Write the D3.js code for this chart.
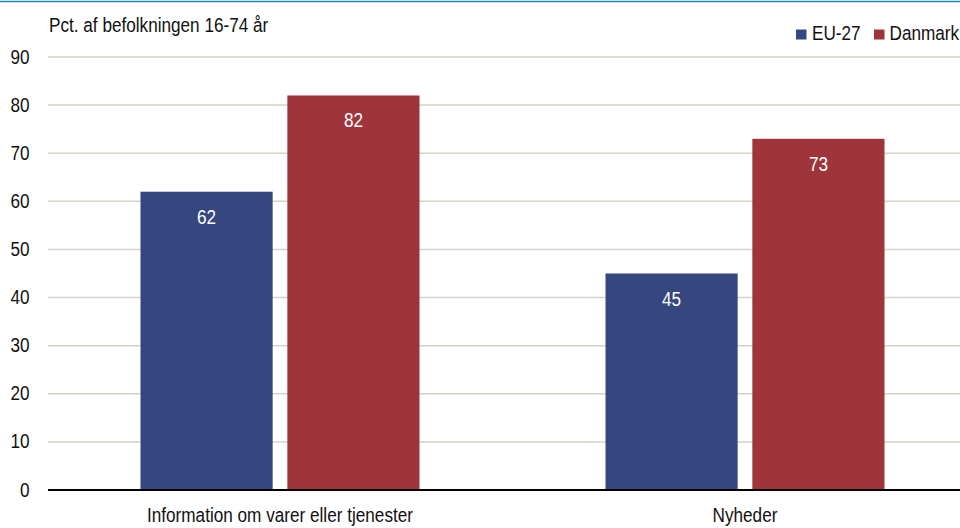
<!DOCTYPE html>
<html><head><meta charset="utf-8">
<script src="https://cdn.jsdelivr.net/npm/d3@7"></script>
<style>
body{margin:0;background:#fff;}
svg{display:block;font-family:"Liberation Sans",Arial,sans-serif;}
</style></head><body>
<svg id="c" width="960" height="528"></svg>
<script>
const categories = ["Information om varer eller tjenester", "Nyheder"];
const seriesNames = ["EU-27", "Danmark"];
const eu27 = [62, 45];
const danmark = [82, 73];
const yTicks = [0,10,20,30,40,50,60,70,80,90];
const colors = ["#36467f", "#a0343b"];
const values = [eu27, danmark];

const FS = 19.5, SX = 0.88;
const svg = d3.select("#c");
function txt(parent, x, yy, s, anchor, fill){
  return parent.append("text")
    .attr("transform", `translate(${x},${yy}) scale(${SX},1)`)
    .attr("text-anchor", anchor || "start")
    .attr("font-size", FS).attr("fill", fill || "#111").text(s);
}

const y = d3.scaleLinear().domain([0,90]).range([490,57]);
const x0 = d3.scaleBand().domain(categories).range([47.5,977.5]).paddingInner(0.4).paddingOuter(0.2);
const x1 = d3.scaleBand().domain(seriesNames).range([0,x0.bandwidth()]).paddingInner(0.1);

svg.append("line").attr("x1",0).attr("x2",960).attr("y1",1.5).attr("y2",1.5).attr("stroke","#1b8bc4").attr("stroke-width",1.5);

// grid
svg.append("g").selectAll("line").data(yTicks.filter(d=>d>0)).join("line")
  .attr("x1",48).attr("x2",960).attr("y1",d=>y(d)).attr("y2",d=>y(d))
  .attr("stroke","#d3d3c9").attr("stroke-width",1.5);

// y labels
const gy = svg.append("g");
yTicks.forEach(d=> txt(gy, 29.5, y(d)+6.5, d, "end"));

// bars
const g = svg.append("g");
categories.forEach((c,i)=>{
  seriesNames.forEach((s,j)=>{
    const v = values[j][i];
    const bx = x0(c)+x1(s);
    g.append("rect").attr("x",bx).attr("y",y(v)).attr("width",x1.bandwidth()).attr("height",y(0)-y(v)).attr("fill",colors[j]);
    txt(g, bx+x1.bandwidth()/2, y(v)+32, v, "middle", "#fff");
  });
  txt(svg, x0(c)+x0.bandwidth()/2, 522, c, "middle");
});

// zero axis
svg.append("line").attr("x1",48).attr("x2",960).attr("y1",y(0)).attr("y2",y(0)).attr("stroke","#000").attr("stroke-width",2);

// title
txt(svg, 49, 31.5, "Pct. af befolkningen 16-74 år");

// legend
const leg = [{x:796, tx:812},{x:874, tx:889.5}];
seriesNames.forEach((s,j)=>{
  svg.append("rect").attr("x",leg[j].x).attr("y",29.5).attr("width",10.5).attr("height",10).attr("fill",colors[j]);
  txt(svg, leg[j].tx, 40, s);
});
</script>
</body></html>
